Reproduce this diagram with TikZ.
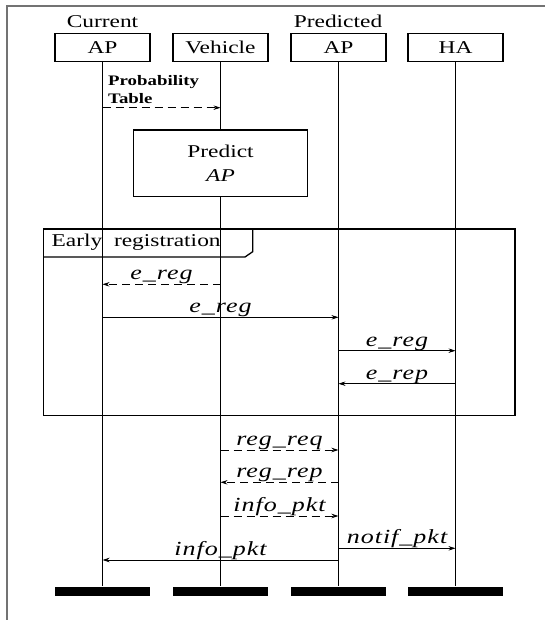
\documentclass[tikz,border=0pt]{standalone}
\usepackage{fontspec}
\setmainfont{Liberation Serif}[FakeStretch=1.3]
\newfontfamily\lblfont{Liberation Serif}[FakeStretch=1.3,LetterSpace=5]
\usetikzlibrary{arrows.meta}
\begin{document}
\begin{tikzpicture}[x=1pt,y=-1pt,
  hdr/.style={draw,line width=1.3pt,minimum width=95pt,minimum height=28pt,inner sep=0pt,font=\fontsize{18}{20}\selectfont},
  life/.style={line width=1.4pt},
  msg/.style={line width=0.9pt,-{Stealth[length=7pt,width=4.5pt]}},
  dmsg/.style={msg,dash pattern=on 8pt off 5pt},
  lbl/.style={font=\lblfont\itshape\fontsize{20}{22}\selectfont,inner sep=0pt,anchor=base,yshift=4.5pt},
  bar/.style={fill=black,minimum width=95pt,minimum height=9pt,inner sep=0pt},
  plain/.style={inner sep=0pt,font=\fontsize{18}{20}\selectfont}]
\useasboundingbox (0,0) rectangle (545,620);
% outer frame
\draw[black!55,line width=1.6pt] (7,620) -- (7,6) -- (545,6);
% headers
\node[plain,anchor=base] (cur) at (102.5,28) {Current};
\node[plain,anchor=base] (prd) at (338,28) {Predicted};
\node[hdr] (ap) at (102.5,47.5) {AP};
\node[hdr] (veh) at (220.5,47.5) {Vehicle};
\node[hdr] (pap) at (338.5,47.5) {AP};
\node[hdr] (ha) at (455.5,47.5) {HA};
% bars
\node[bar] (apb) at (102.5,591) {};
\node[bar] (vehb) at (220.5,591) {};
\node[bar] (papb) at (338.5,591) {};
\node[bar] (hab) at (455.5,591) {};
% lifelines
\draw[life] (ap) -- (apb);
\draw[life] (veh) -- (vehb);
\draw[life] (pap) -- (papb);
\draw[life] (ha) -- (hab);
% probability table
\node[inner sep=0pt,anchor=base west,font=\bfseries\fontsize{14.5}{16}\selectfont] (pt1) at (108,86) {Probability};
\node[inner sep=0pt,anchor=base west,font=\bfseries\fontsize{14.5}{16}\selectfont] (pt2) at (108,103.3) {Table};
\draw[dmsg] (ap |- 0,107.7) -- (veh |- 0,107.7);
% predict box
\node[draw,fill=white,line width=1.3pt,minimum width=174pt,minimum height=66.5pt,inner sep=0pt,align=center,font=\fontsize{18}{24}\selectfont] (pred) at (220.5,163.4) {Predict\\\textit{AP}};
% early registration frame
\draw[line width=1.3pt] (43.3,229) rectangle (515,415.5);
\draw[line width=1.3pt] (43.3,257) -- (245,257) -- (252.7,251.7) -- (252.7,229);
\node[plain,anchor=base west] (er) at (51.5,246) {Early\ \ registration};
% messages
\draw[dmsg] (veh |- 0,284.3) -- node[lbl,midway] {e\_reg} (ap |- 0,284.3);
\draw[msg] (ap |- 0,317.3) -- node[lbl,midway] {e\_reg} (pap |- 0,317.3);
\draw[msg] (pap |- 0,350.7) -- node[lbl,midway] {e\_reg} (ha |- 0,350.7);
\draw[msg] (ha |- 0,383.7) -- node[lbl,midway] {e\_rep} (pap |- 0,383.7);
\draw[dmsg] (veh |- 0,450) -- node[lbl,midway] {reg\_req} (pap |- 0,450);
\draw[dmsg] (pap |- 0,482.3) -- node[lbl,midway] {reg\_rep} (veh |- 0,482.3);
\draw[dmsg] (veh |- 0,516) -- node[lbl,midway] {info\_pkt} (pap |- 0,516);
\draw[msg] (pap |- 0,548.3) -- node[lbl,midway] {notif\_pkt} (ha |- 0,548.3);
\draw[msg] (pap |- 0,560) -- node[lbl,midway] {info\_pkt} (ap |- 0,560);
\end{tikzpicture}
\end{document}
